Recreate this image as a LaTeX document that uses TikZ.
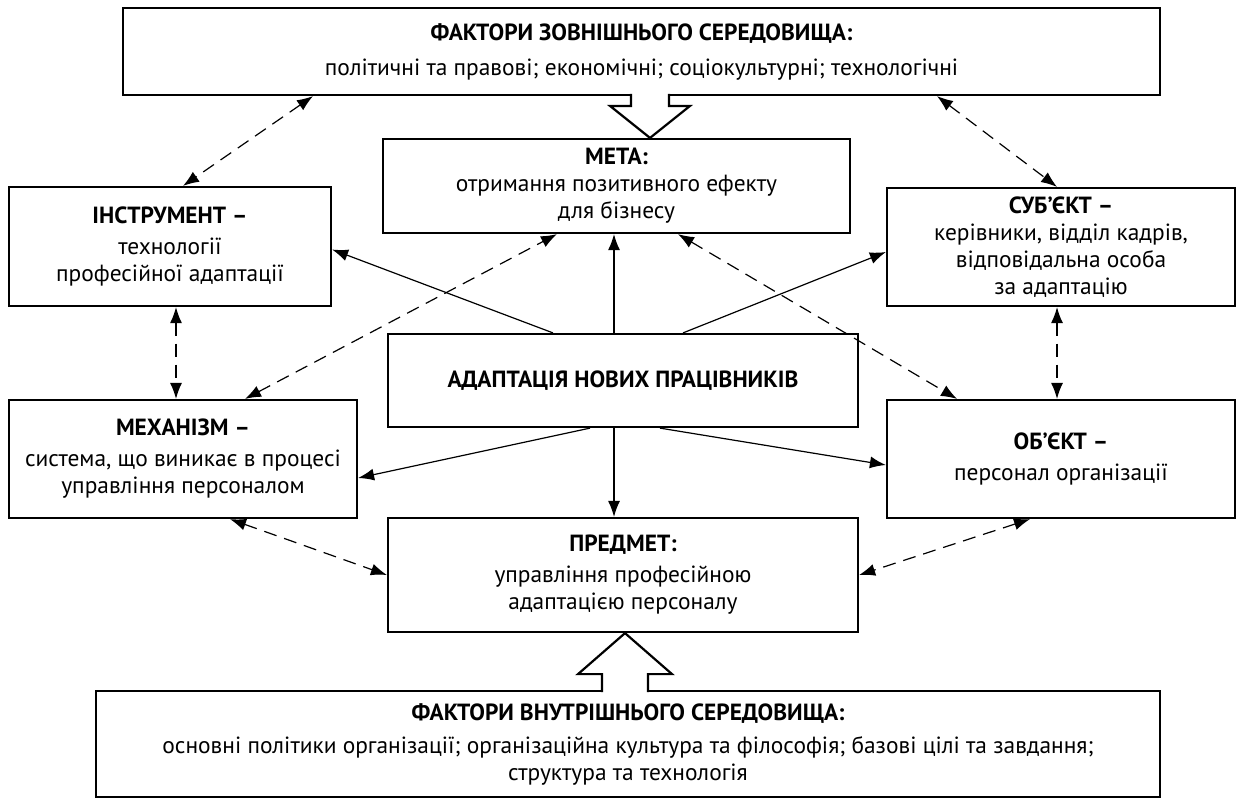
\documentclass[tikz,border=0pt]{standalone}
\usepackage{fontspec}
\setmainfont{PT Sans}
\usetikzlibrary{arrows.meta,calc}

\tikzset{
  box/.style={draw,line width=1.1pt,align=center,inner sep=2pt,
    font=\fontsize{11.7}{13.5}\selectfont},
  link/.style={line width=0.6pt,-{Latex[length=8pt,width=6pt]}},
  dlink/.style={line width=0.6pt,dash pattern=on 6.5pt off 4pt,
    {Latex[length=8pt,width=6pt]}-{Latex[length=8pt,width=6pt]}},
  hollow/.style={draw,line width=1.1pt,fill=white,line join=miter}
}

\begin{document}
\begin{tikzpicture}[x=0.5pt,y=-0.5pt]
  \useasboundingbox (0,0) rectangle (1240,800);

  % boxes
  \node[box,minimum width=518.5pt,minimum height=43.5pt] (ext) at (641.5,51.5)
    {\textbf{ФАКТОРИ ЗОВНІШНЬОГО СЕРЕДОВИЩА:}\\[4pt]
     політичні та правові; економічні; соціокультурні; технологічні};
  \node[box,minimum width=233.5pt,minimum height=47pt] (meta) at (616.5,186)
    {\textbf{МЕТА:}\\ отримання позитивного ефекту\\ для бізнесу};
  \node[box,minimum width=161pt,minimum height=59.5pt] (instr) at (170,246.5)
    {\textbf{ІНСТРУМЕНТ –}\\[2pt] технології\\ професійної адаптації};
  \node[box,minimum width=174pt,minimum height=59pt] (subj) at (1061,247)
    {\textbf{СУБ’ЄКТ –}\\ керівники, відділ кадрів,\\ відповідальна особа\\ за адаптацію};
  \node[box,minimum width=235pt,minimum height=46.5pt] (adapt) at (623,380.5)
    {\textbf{АДАПТАЦІЯ НОВИХ ПРАЦІВНИКІВ}};
  \node[box,minimum width=174pt,minimum height=59pt] (mech) at (183,459)
    {\textbf{МЕХАНІЗМ –}\\[2pt] система, що виникає в процесі\\ управління персоналом};
  \node[box,minimum width=174pt,minimum height=59pt] (obj) at (1061,459)
    {\textbf{ОБ’ЄКТ –}\\[2pt] персонал організації};
  \node[box,minimum width=235pt,minimum height=57pt] (pred) at (623,575)
    {\textbf{ПРЕДМЕТ:}\\[2pt] управління професійною\\ адаптацією персоналу};
  \node[box,minimum width=532pt,minimum height=53pt] (int) at (628,744)
    {\textbf{ФАКТОРИ ВНУТРІШНЬОГО СЕРЕДОВИЩА:}\\[3pt]
     основні політики організації; організаційна культура та філософія; базові цілі та завдання;\\
     структура та технологія};

  % hollow arrows
  \coordinate (tipa) at ($(meta.north)+(33.5,0)$);
  \coordinate (tipb) at ($(pred.south)+(2,0)$);
  \draw[hollow] (tipa) ++(-19,-44) -- ++(0,12) -- ++(-21,0) -- (tipa)
    -- ++(40,-32) -- ++(-21,0) -- ++(0,-12);
  \draw[hollow] (tipb) ++(-23,59) -- ++(0,-18) -- ++(-24,0) -- (tipb)
    -- ++(47,41) -- ++(-24,0) -- ++(0,18);

  % solid links from the centre
  \draw[link] ($(adapt.north)+(-70,0)$) -- ($(instr.east)+(0,3)$);
  \draw[link] ($(adapt.north)+(-9,0)$) -- ($(meta.south)+(-2.5,0)$);
  \draw[link] ($(adapt.north)+(60,0)$) -- ($(subj.west)+(0,5)$);
  \draw[link] ($(adapt.south)+(-33,0)$) -- ($(mech.east)+(0,19)$);
  \draw[link] ($(adapt.south)+(-9,0)$) -- ($(pred.north)+(-9,0)$);
  \draw[link] ($(adapt.south)+(37,0)$) -- ($(obj.west)+(0,6)$);

  % dashed links
  \draw[dlink] ($(ext.south)+(-328.5,0)$) -- ($(instr.north)+(13,0)$);
  \draw[dlink] ($(ext.south)+(295.5,0)$) -- ($(subj.north)+(-4,0)$);
  \draw[dlink] ($(instr.south)+(6,0)$) -- ($(mech.north)+(-7,0)$);
  \draw[dlink] ($(subj.south)+(-4,0)$) -- ($(obj.north)+(-4,0)$);
  \draw[dlink] ($(mech.north)+(62,0)$) -- ($(meta.south)+(-59.5,0)$);
  \draw[dlink] ($(meta.south)+(61.5,0)$) -- ($(obj.north)+(-104,0)$);
  \draw[dlink] ($(mech.south)+(47,0)$) -- (pred.west);
  \draw[dlink] ($(obj.south)+(-31,0)$) -- (pred.east);
\end{tikzpicture}
\end{document}
